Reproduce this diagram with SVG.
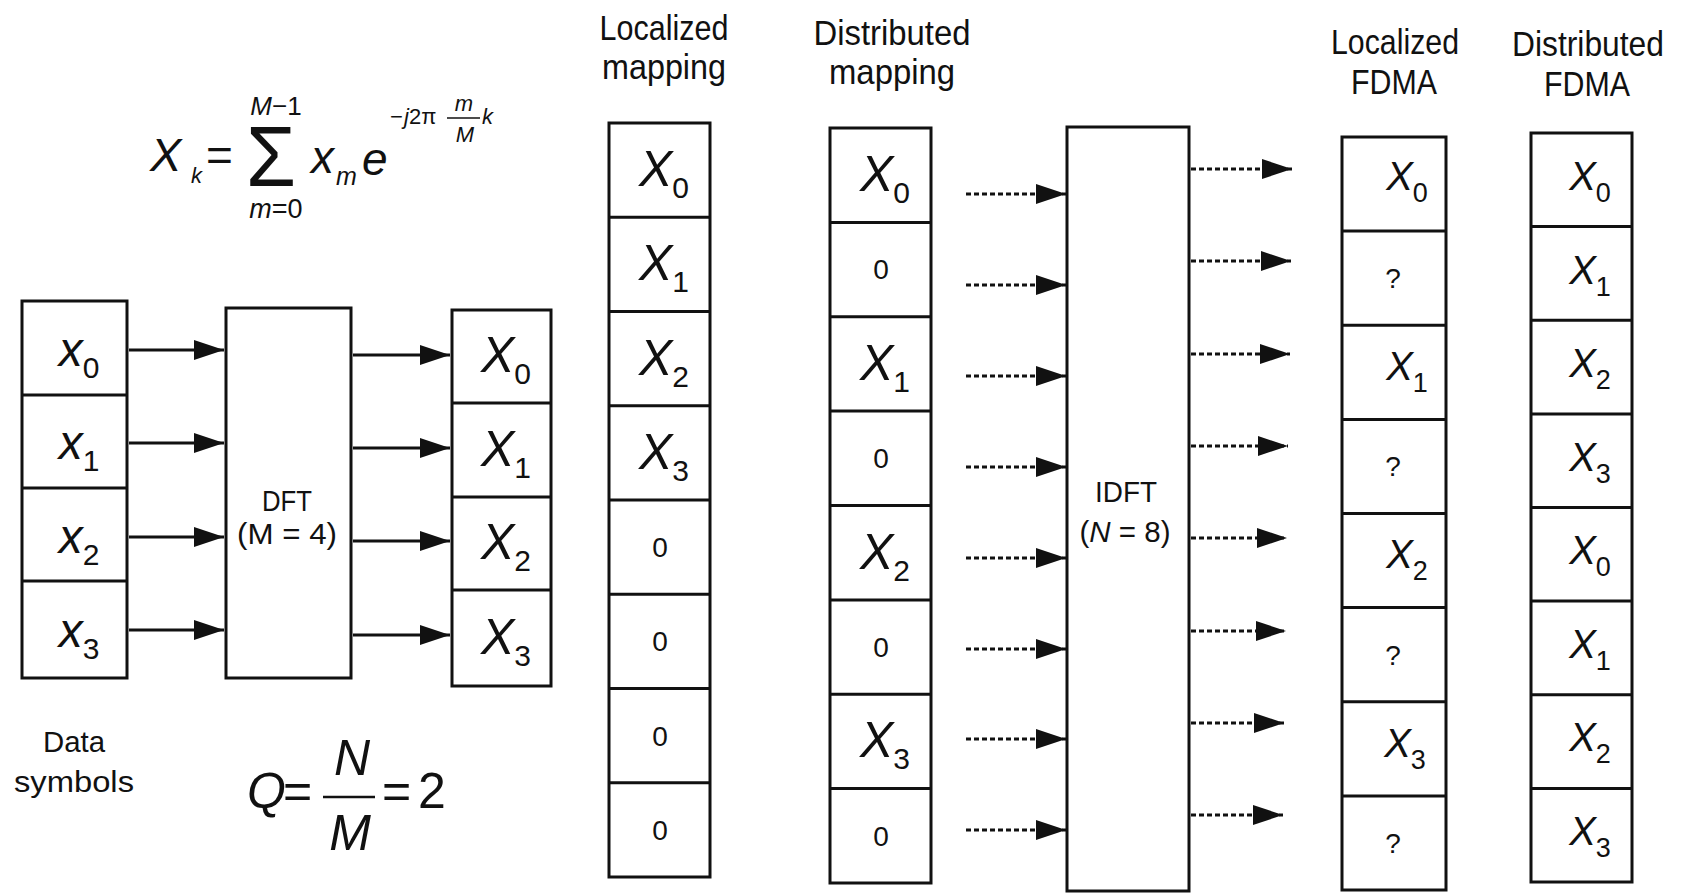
<svg xmlns="http://www.w3.org/2000/svg" width="1688" height="894" viewBox="0 0 1688 894">
<style>
text{font-family:"Liberation Sans",Arial,sans-serif;fill:#111}
.box{fill:none;stroke:#111;stroke-width:3}
.div{stroke:#111;stroke-width:3}
.it{font-style:italic}
.hdr{font-size:35px;text-anchor:middle}
.xl{font-size:48px;font-style:italic;text-anchor:middle}
.Xb{font-size:50px;font-style:italic;text-anchor:middle}
.Xs{font-size:40px;font-style:italic;text-anchor:middle}
.sub{font-size:30px;font-style:normal}
.subs{font-size:27px;font-style:normal}
.z{font-size:28px;text-anchor:middle}
.lbl{font-size:30px;text-anchor:middle}
.sol{stroke:#111;stroke-width:3;fill:none}
.dsh{stroke:#111;stroke-width:3;fill:none;stroke-dasharray:5 3}
</style>
<defs>
<marker id="ah" markerUnits="userSpaceOnUse" markerWidth="30" markerHeight="20" refX="30" refY="10" orient="auto"><path d="M0,0 L30,10 L0,20 z" fill="#111"/></marker>
</defs>
<rect width="1688" height="894" fill="#fff"/>

<g id="formula-dft">
<text class="it" x="150" y="171" font-size="47">X</text>
<text class="it" x="191" y="183" font-size="22">k</text>
<text x="206" y="171" font-size="46">=</text>
<text x="246" y="186" font-size="86" textLength="50" lengthAdjust="spacingAndGlyphs">Σ</text>
<text x="276" y="115" font-size="26" text-anchor="middle"><tspan class="it">M</tspan>−1</text>
<text x="276" y="218" font-size="27" text-anchor="middle"><tspan class="it">m</tspan>=0</text>
<text class="it" x="311" y="173" font-size="46">x</text>
<text class="it" x="336" y="185" font-size="25">m</text>
<text class="it" x="362" y="175" font-size="46">e</text>
<text x="390" y="124" font-size="22">−</text>
<text x="404" y="124" font-size="22"><tspan class="it">j</tspan>2π</text>
<text class="it" x="464" y="111" font-size="22" text-anchor="middle">m</text>
<line x1="447" y1="118" x2="480" y2="118" stroke="#111" stroke-width="1.5"/>
<text class="it" x="465" y="142" font-size="22" text-anchor="middle">M</text>
<text class="it" x="482" y="124" font-size="22">k</text>
</g>

<g id="formula-q">
<text class="it" x="247" y="808" font-size="50">Q</text>
<text x="283" y="808" font-size="50">=</text>
<line x1="323" y1="797" x2="375" y2="797" stroke="#111" stroke-width="2.5"/>
<text class="it" x="352" y="775" font-size="50" text-anchor="middle">N</text>
<text class="it" x="350" y="850" font-size="50" text-anchor="middle">M</text>
<text x="382" y="808" font-size="50">=</text>
<text x="418" y="808" font-size="50">2</text>
</g>

<g id="data-symbols">
<rect class="box" x="22" y="301" width="105" height="377"/>
<line class="div" x1="22" y1="395" x2="127" y2="395"/>
<line class="div" x1="22" y1="488" x2="127" y2="488"/>
<line class="div" x1="22" y1="581" x2="127" y2="581"/>
<text class="xl" x="79" y="366">x<tspan class="sub" dy="12">0</tspan></text>
<text class="xl" x="79" y="459">x<tspan class="sub" dy="12">1</tspan></text>
<text class="xl" x="79" y="553">x<tspan class="sub" dy="12">2</tspan></text>
<text class="xl" x="79" y="647">x<tspan class="sub" dy="12">3</tspan></text>
<text class="lbl" x="74" y="752" textLength="62" lengthAdjust="spacingAndGlyphs">Data</text>
<text class="lbl" x="74" y="792" textLength="120" lengthAdjust="spacingAndGlyphs">symbols</text>
</g>

<g id="dft">
<rect class="box" x="226" y="308" width="125" height="370"/>
<text x="287" y="511" font-size="29" text-anchor="middle" textLength="50" lengthAdjust="spacingAndGlyphs">DFT</text>
<text x="287" y="544" font-size="29" text-anchor="middle" textLength="100" lengthAdjust="spacingAndGlyphs">(M = 4)</text>
</g>

<g id="dft-output">
<rect class="box" x="452" y="310" width="99" height="376"/>
<line class="div" x1="452" y1="403" x2="551" y2="403"/>
<line class="div" x1="452" y1="497" x2="551" y2="497"/>
<line class="div" x1="452" y1="590" x2="551" y2="590"/>
<text class="Xb" x="506" y="372">X<tspan class="sub" dy="12">0</tspan></text>
<text class="Xb" x="506" y="466">X<tspan class="sub" dy="12">1</tspan></text>
<text class="Xb" x="506" y="559">X<tspan class="sub" dy="12">2</tspan></text>
<text class="Xb" x="506" y="654">X<tspan class="sub" dy="12">3</tspan></text>
</g>

<g id="localized-mapping">
<text class="hdr" x="664" y="40" textLength="129" lengthAdjust="spacingAndGlyphs">Localized</text>
<text class="hdr" x="664" y="79" textLength="124" lengthAdjust="spacingAndGlyphs">mapping</text>
<rect class="box" x="609" y="123" width="101" height="754"/>
<line class="div" x1="609" y1="217.3" x2="710" y2="217.3"/>
<line class="div" x1="609" y1="311.5" x2="710" y2="311.5"/>
<line class="div" x1="609" y1="405.8" x2="710" y2="405.8"/>
<line class="div" x1="609" y1="500" x2="710" y2="500"/>
<line class="div" x1="609" y1="594.3" x2="710" y2="594.3"/>
<line class="div" x1="609" y1="688.5" x2="710" y2="688.5"/>
<line class="div" x1="609" y1="782.8" x2="710" y2="782.8"/>
<text class="Xb" x="664" y="186">X<tspan class="sub" dy="12">0</tspan></text>
<text class="Xb" x="664" y="280">X<tspan class="sub" dy="12">1</tspan></text>
<text class="Xb" x="664" y="375">X<tspan class="sub" dy="12">2</tspan></text>
<text class="Xb" x="664" y="469">X<tspan class="sub" dy="12">3</tspan></text>
<text class="z" x="660" y="557">0</text>
<text class="z" x="660" y="651">0</text>
<text class="z" x="660" y="746">0</text>
<text class="z" x="660" y="840">0</text>
</g>

<g id="distributed-mapping">
<text class="hdr" x="892" y="45" textLength="157" lengthAdjust="spacingAndGlyphs">Distributed</text>
<text class="hdr" x="892" y="84" textLength="126" lengthAdjust="spacingAndGlyphs">mapping</text>
<rect class="box" x="830" y="128" width="101" height="755"/>
<line class="div" x1="830" y1="222.4" x2="931" y2="222.4"/>
<line class="div" x1="830" y1="316.8" x2="931" y2="316.8"/>
<line class="div" x1="830" y1="411.1" x2="931" y2="411.1"/>
<line class="div" x1="830" y1="505.5" x2="931" y2="505.5"/>
<line class="div" x1="830" y1="599.9" x2="931" y2="599.9"/>
<line class="div" x1="830" y1="694.3" x2="931" y2="694.3"/>
<line class="div" x1="830" y1="788.6" x2="931" y2="788.6"/>
<text class="Xb" x="885" y="191">X<tspan class="sub" dy="12">0</tspan></text>
<text class="z" x="881" y="279">0</text>
<text class="Xb" x="885" y="380">X<tspan class="sub" dy="12">1</tspan></text>
<text class="z" x="881" y="468">0</text>
<text class="Xb" x="885" y="569">X<tspan class="sub" dy="12">2</tspan></text>
<text class="z" x="881" y="657">0</text>
<text class="Xb" x="885" y="757">X<tspan class="sub" dy="12">3</tspan></text>
<text class="z" x="881" y="846">0</text>
</g>

<g id="idft">
<rect class="box" x="1067" y="127" width="122" height="764"/>
<text x="1126" y="502" font-size="30" text-anchor="middle" textLength="62" lengthAdjust="spacingAndGlyphs">IDFT</text>
<text x="1125" y="542" font-size="30" text-anchor="middle" textLength="91" lengthAdjust="spacingAndGlyphs">(<tspan class="it">N</tspan> = 8)</text>
</g>

<g id="localized-fdma">
<text class="hdr" x="1395" y="54" textLength="128" lengthAdjust="spacingAndGlyphs">Localized</text>
<text class="hdr" x="1394" y="94" textLength="86" lengthAdjust="spacingAndGlyphs">FDMA</text>
<rect class="box" x="1342" y="137" width="104" height="753"/>
<line class="div" x1="1342" y1="231.1" x2="1446" y2="231.1"/>
<line class="div" x1="1342" y1="325.3" x2="1446" y2="325.3"/>
<line class="div" x1="1342" y1="419.4" x2="1446" y2="419.4"/>
<line class="div" x1="1342" y1="513.5" x2="1446" y2="513.5"/>
<line class="div" x1="1342" y1="607.6" x2="1446" y2="607.6"/>
<line class="div" x1="1342" y1="701.8" x2="1446" y2="701.8"/>
<line class="div" x1="1342" y1="795.9" x2="1446" y2="795.9"/>
<text class="Xs" x="1407" y="190">X<tspan class="subs" dy="12">0</tspan></text>
<text class="z" x="1393" y="288">?</text>
<text class="Xs" x="1407" y="380">X<tspan class="subs" dy="12">1</tspan></text>
<text class="z" x="1393" y="476">?</text>
<text class="Xs" x="1407" y="568">X<tspan class="subs" dy="12">2</tspan></text>
<text class="z" x="1393" y="665">?</text>
<text class="Xs" x="1405" y="757">X<tspan class="subs" dy="12">3</tspan></text>
<text class="z" x="1393" y="853">?</text>
</g>

<g id="distributed-fdma">
<text class="hdr" x="1588" y="56" textLength="152" lengthAdjust="spacingAndGlyphs">Distributed</text>
<text class="hdr" x="1587" y="96" textLength="86" lengthAdjust="spacingAndGlyphs">FDMA</text>
<rect class="box" x="1531" y="133" width="101" height="749"/>
<line class="div" x1="1531" y1="226.6" x2="1632" y2="226.6"/>
<line class="div" x1="1531" y1="320.3" x2="1632" y2="320.3"/>
<line class="div" x1="1531" y1="413.9" x2="1632" y2="413.9"/>
<line class="div" x1="1531" y1="507.5" x2="1632" y2="507.5"/>
<line class="div" x1="1531" y1="601.1" x2="1632" y2="601.1"/>
<line class="div" x1="1531" y1="694.8" x2="1632" y2="694.8"/>
<line class="div" x1="1531" y1="788.4" x2="1632" y2="788.4"/>
<text class="Xs" x="1590" y="190">X<tspan class="subs" dy="12">0</tspan></text>
<text class="Xs" x="1590" y="284">X<tspan class="subs" dy="12">1</tspan></text>
<text class="Xs" x="1590" y="377">X<tspan class="subs" dy="12">2</tspan></text>
<text class="Xs" x="1590" y="471">X<tspan class="subs" dy="12">3</tspan></text>
<text class="Xs" x="1590" y="564">X<tspan class="subs" dy="12">0</tspan></text>
<text class="Xs" x="1590" y="658">X<tspan class="subs" dy="12">1</tspan></text>
<text class="Xs" x="1590" y="751">X<tspan class="subs" dy="12">2</tspan></text>
<text class="Xs" x="1590" y="845">X<tspan class="subs" dy="12">3</tspan></text>
</g>

<g id="connectors">
<line class="sol" x1="129" y1="350" x2="224" y2="350" marker-end="url(#ah)"/>
<line class="sol" x1="129" y1="443" x2="224" y2="443" marker-end="url(#ah)"/>
<line class="sol" x1="129" y1="537" x2="224" y2="537" marker-end="url(#ah)"/>
<line class="sol" x1="129" y1="630" x2="224" y2="630" marker-end="url(#ah)"/>
<line class="sol" x1="353" y1="355" x2="450" y2="355" marker-end="url(#ah)"/>
<line class="sol" x1="353" y1="448" x2="450" y2="448" marker-end="url(#ah)"/>
<line class="sol" x1="353" y1="541" x2="450" y2="541" marker-end="url(#ah)"/>
<line class="sol" x1="353" y1="635" x2="450" y2="635" marker-end="url(#ah)"/>
<line class="dsh" x1="966" y1="194" x2="1066" y2="194" marker-end="url(#ah)"/>
<line class="dsh" x1="966" y1="285" x2="1066" y2="285" marker-end="url(#ah)"/>
<line class="dsh" x1="966" y1="376" x2="1066" y2="376" marker-end="url(#ah)"/>
<line class="dsh" x1="966" y1="467" x2="1066" y2="467" marker-end="url(#ah)"/>
<line class="dsh" x1="966" y1="558" x2="1066" y2="558" marker-end="url(#ah)"/>
<line class="dsh" x1="966" y1="649" x2="1066" y2="649" marker-end="url(#ah)"/>
<line class="dsh" x1="966" y1="739" x2="1066" y2="739" marker-end="url(#ah)"/>
<line class="dsh" x1="966" y1="830" x2="1066" y2="830" marker-end="url(#ah)"/>
<line class="dsh" x1="1191" y1="169" x2="1292" y2="169" marker-end="url(#ah)"/>
<line class="dsh" x1="1191" y1="261" x2="1291" y2="261" marker-end="url(#ah)"/>
<line class="dsh" x1="1191" y1="354" x2="1290" y2="354" marker-end="url(#ah)"/>
<line class="dsh" x1="1191" y1="446" x2="1288" y2="446" marker-end="url(#ah)"/>
<line class="dsh" x1="1191" y1="538" x2="1287" y2="538" marker-end="url(#ah)"/>
<line class="dsh" x1="1191" y1="631" x2="1286" y2="631" marker-end="url(#ah)"/>
<line class="dsh" x1="1191" y1="723" x2="1284" y2="723" marker-end="url(#ah)"/>
<line class="dsh" x1="1191" y1="815" x2="1283" y2="815" marker-end="url(#ah)"/>
</g>
</svg>
